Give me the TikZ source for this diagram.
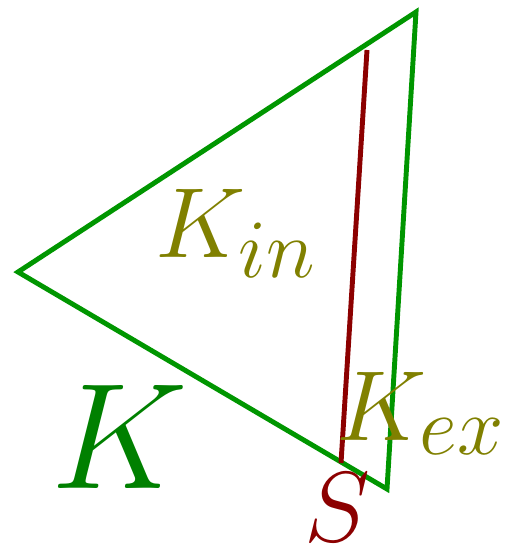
\documentclass[tikz,border=0pt]{standalone}
\usepackage{amsmath}
\usepackage{amssymb}
\usepackage{xcolor}
\definecolor{setgreen}{RGB}{0,150,0}
\definecolor{labelgreen}{RGB}{0,128,0}
\definecolor{partolive}{RGB}{128,128,0}
\definecolor{cutred}{RGB}{140,0,0}

\begin{document}
\begin{tikzpicture}[
    x=0.02cm, y=-0.02cm,
    setline/.style={draw=setgreen, line width=2.8pt, line join=miter},
    cutline/.style={draw=cutred, line width=2.8pt},
    partlabel/.style={text=partolive, inner sep=0pt, anchor=base west, font=\Huge, scale=2.28},
    setlabel/.style={text=labelgreen, inner sep=0pt, anchor=base west, font=\Huge, scale=3.45}
]
\useasboundingbox (0,0) rectangle (504,554);

% Set K
\coordinate (left) at (18,272);
\coordinate (top) at (416,12);
\coordinate (bottom) at (387,489);
\draw[setline] (left) -- (top) -- (bottom) -- cycle;

% Cut S
\coordinate (cuttop) at (367,50);
\coordinate (cutbottom) at (341,463);
\draw[cutline] (cuttop) -- (cutbottom);

% Labels
\node[partlabel] (kin) at (155,257) {$K_{in}$};
\node[partlabel] (kex) at (336,440) {$K_{ex}$};
\node[partlabel, text=cutred] (s) at (304,541) {$S$};
\node[setlabel] (k) at (50,488) {$K$};

\end{tikzpicture}
\end{document}
